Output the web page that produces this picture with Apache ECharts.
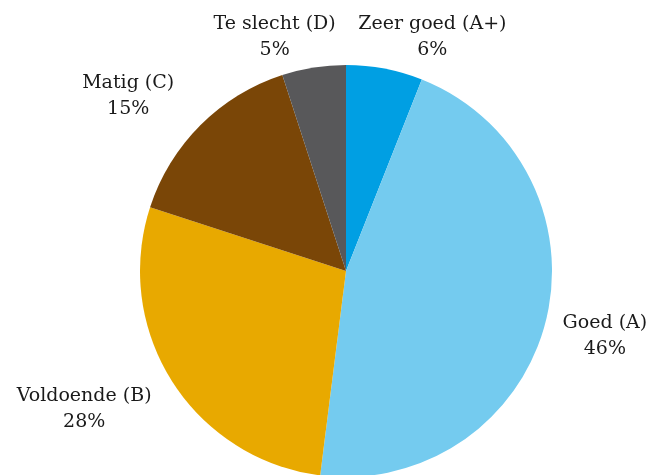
<!DOCTYPE html>
<html>
<head>
<meta charset="utf-8">
<script src="https://cdn.jsdelivr.net/npm/echarts@6/dist/echarts.min.js"></script>
<style>
  html, body { margin: 0; padding: 0; background: #fff; }
  #main { width: 651px; height: 475px; }
</style>
</head>
<body>
<div id="main"></div>
<script>
// categories in drawing order (clockwise from 12 o'clock)
const categories = ['Zeer goed (A+)', 'Goed (A)', 'Voldoende (B)', 'Matig (C)', 'Te slecht (D)'];
const values = [6, 46, 28, 15, 5];
const colors = ['#009fe3', '#74cbef', '#e8a900', '#7a4607', '#58585a'];
// label nudges (px) from the default outside anchor
const labelShift = [[39, -12], [35, 9], [-66, 17], [-53, -15], [-31, -11]];

const myChart = echarts.init(document.getElementById('main'));

const option = {
    animation: false,
    series: [{
        type: 'pie',
        center: [346, 271],
        radius: 206,
        startAngle: 90,
        clockwise: true,
        avoidLabelOverlap: false,
        data: categories.map((name, i) => ({
            name: name,
            value: values[i],
            itemStyle: { color: colors[i] }
        })),
        label: {
            position: 'outside',
            formatter: '{b}\n{c}%',
            fontFamily: 'DejaVu Serif',
            fontSize: 19,
            lineHeight: 26,
            color: '#1a1a1a',
            distanceToLabelLine: 5
        },
        labelLine: { show: false, length: 20, length2: 0 },
        labelLayout: (p) => ({
            align: 'center',
            dx: labelShift[p.dataIndex][0],
            dy: labelShift[p.dataIndex][1]
        }),
        emphasis: { disabled: true }
    }]
};
myChart.setOption(option);
</script>
</body>
</html>
